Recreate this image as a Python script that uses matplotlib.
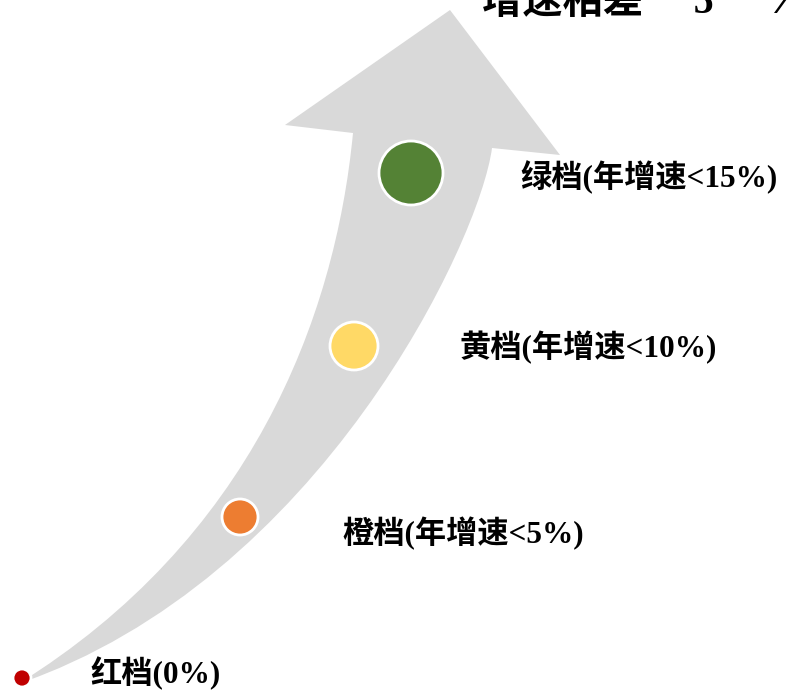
import matplotlib.pyplot as plt
from matplotlib.path import Path
from matplotlib.patches import PathPatch, Circle

# tiers along the arrow (pixel coordinates of the original slide)
labels = ['红档(0%)', '橙档(年增速<5%)', '黄档(年增速<10%)', '绿档(年增速<15%)']
colors = ['#C00000', '#ED7D31', '#FFD966', '#548235']
dot_x = [22, 240, 354, 411]
dot_y = [678, 517, 346, 173]
dot_r = [9, 18, 24, 32]
label_x = [90, 342, 460, 520]
label_y = [673, 534, 348, 177]

# arrow outline: head + two curved edges (cubic bezier control points)
head = [(353, 133), (285, 125), (450, 10), (560, 155), (492, 148)]
right_edge = [(492, 148), (480, 240), (320, 580), (18, 684)]
left_edge = [(18, 684), (250, 540), (335, 320), (353, 133)]

title = '增速相差     5     %'

fig = plt.figure(figsize=(7.87, 6.90), dpi=100)
ax = fig.add_axes([0, 0, 1, 1])
ax.set_xlim(0, 787)
ax.set_ylim(690, 0)
ax.axis('off')

verts = list(head) + right_edge[1:] + left_edge[1:]
codes = ([Path.MOVETO] + [Path.LINETO] * (len(head) - 1)
         + [Path.CURVE4] * 3 + [Path.CURVE4] * 3)
ax.add_patch(PathPatch(Path(verts, codes), facecolor='#D9D9D9', edgecolor='none'))

for x, y, r, c in zip(dot_x, dot_y, dot_r, colors):
    ax.add_patch(Circle((x, y), r, facecolor=c, edgecolor='white', lw=2, zorder=3))

fam = ['Liberation Serif', 'Noto Sans CJK SC']
for x, y, t in zip(label_x, label_y, labels):
    ax.text(x, y, t, fontsize=22.5, fontweight='bold', family=fam,
            ha='left', va='center', color='black')

ax.text(482, 3, title, fontsize=29, fontweight='bold',
        family=['Liberation Serif', 'Noto Sans CJK SC'],
        ha='left', va='center', color='black')

fig.savefig('out.png', dpi=100)
